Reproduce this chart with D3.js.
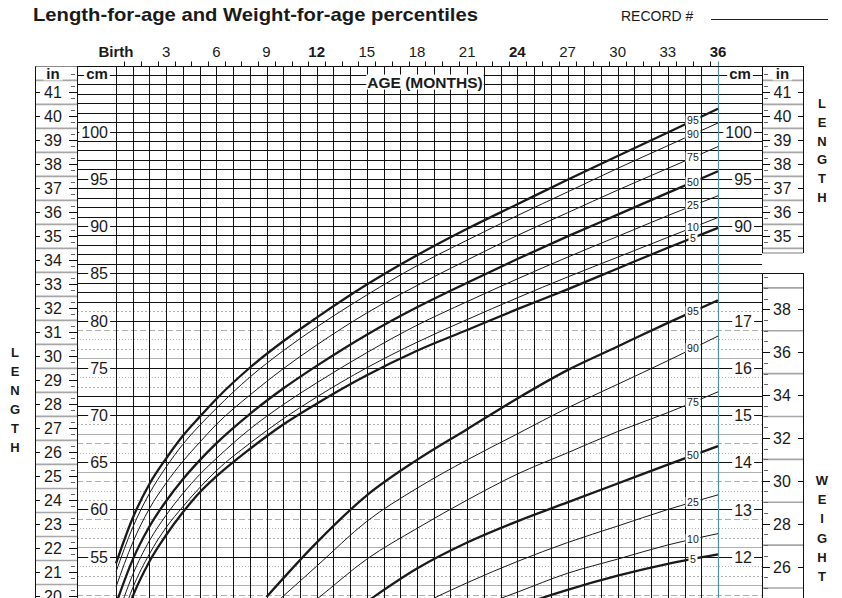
<!DOCTYPE html>
<html><head><meta charset="utf-8">
<script src="https://cdn.jsdelivr.net/npm/d3@7/dist/d3.min.js"></script>
<style>
body{margin:0;background:#fff}
svg{display:block}
text{font-family:"Liberation Sans",Arial,Helvetica,sans-serif;fill:#1a1a1a}
</style></head>
<body><svg id="c" width="842" height="598"></svg>
<script>
// ---------- data ----------
const percentiles = [5, 10, 25, 50, 75, 90, 95];
const lengthAges = [0,1,2,3,4,5,6,8,10,12,15,18,21,24,27,30,33,36];
const lenP5  = [45.6,50.8,54.5,57.3,59.7,61.8,63.5,66.4,69.0,71.2,74.2,76.8,79.0,81.2,83.3,85.5,87.7,89.8];
const lenP10 = [46.6,51.7,55.3,58.1,60.3,62.3,64.1,67.0,69.6,71.9,75.0,77.7,80.1,82.4,84.6,86.7,88.8,90.9];
const lenP25 = [48.2,53.1,56.7,59.4,61.7,63.7,65.4,68.5,71.1,73.4,76.6,79.5,82.0,84.4,86.7,88.9,91.1,93.2];
const lenP50 = [50.0,54.7,58.2,60.9,63.2,65.2,67.0,70.1,72.8,75.2,78.5,81.4,84.0,86.5,88.9,91.2,93.5,95.8];
const lenP75 = [51.8,56.5,60.1,62.8,65.1,67.1,69.0,72.1,74.9,77.4,80.8,83.7,86.4,89.0,91.4,93.8,96.1,98.4];
const lenP90 = [53.4,58.1,61.7,64.5,66.9,68.9,70.7,74.0,76.8,79.3,82.7,85.8,88.5,91.1,93.6,96.1,98.5,100.9];
const lenP95 = [54.3,59.1,62.7,65.4,67.8,69.8,71.7,75.0,77.8,80.3,83.8,86.9,89.7,92.3,94.9,97.4,99.9,102.4];

const weightAges = [9,12,15,18,21,24,27,30,33,36];
const wtP5  = [8.3,9.0,9.6,10.1,10.55,10.95,11.3,11.6,11.85,12.05];
const wtP10 = [8.5,9.3,9.9,10.4,10.85,11.25,11.65,11.95,12.25,12.49];
const wtP25 = [9.0,9.8,10.4,10.95,11.45,11.9,12.3,12.65,13.0,13.31];
const wtP50 = [9.6,10.3,11.05,11.75,12.3,12.75,13.15,13.55,13.95,14.34];
const wtP75 = [10.3,11.1,11.95,12.6,13.2,13.75,14.2,14.65,15.05,15.49];
const wtP90 = [10.85,11.8,12.75,13.45,14.05,14.6,15.15,15.65,16.15,16.67];
const wtP95 = [11.15,12.3,13.3,14.05,14.7,15.35,15.95,16.45,16.95,17.43];

const monthTicks = [0,3,6,9,12,15,18,21,24,27,30,33,36];
const monthLabels = ["Birth","3","6","9","12","15","18","21","24","27","30","33","36"];
const boldMonths = ["Birth","12","24","36"];
const cmLabelsLeft = [55,60,65,70,75,80,85,90,95,100];
const cmLabelsRight = [90,95,100];
const inLabelsLeft = d3.range(20,42);
const inLabelsRight = d3.range(35,42);
const kgLabels = [12,13,14,15,16,17];
const lbLabels = [26,28,30,32,34,36,38];
const thickPct = [5,50,95];

// ---------- geometry ----------
const svg = d3.select("#c");
const TOP = 66.5, BOT = 598;
const L_IN = 35, L_CM = 77, GX0 = 116, GX1 = 718, R_CM = 762, R_IN = 803;
const x = d3.scaleLinear().domain([0,36]).range([GX0,GX1]);
const yCm = d3.scaleLinear().domain([55,100]).range([556.75,131.5]);
const yIn = d3.scaleLinear().domain([20,41]).range([yCm(50.8), yCm(104.14)]);
const yKg = d3.scaleLinear().domain([12,17]).range([yCm(55), yCm(80)]);
const yLb = d3.scaleLinear().domain([26,38]).range([yKg(26*0.45359237), yKg(38*0.45359237)]);
const LEN_BOTTOM_IN_R = 253, LB_TOP = 273;

const g = svg.append("g");

// title
svg.append("text").attr("x",33).attr("y",21).attr("font-size",19).attr("font-weight","bold")
  .attr("textLength",445).attr("lengthAdjust","spacingAndGlyphs")
  .text("Length-for-age and Weight-for-age percentiles");
svg.append("text").attr("x",621).attr("y",21).attr("font-size",14).text("RECORD #");
svg.append("line").attr("x1",711).attr("x2",828).attr("y1",19.5).attr("y2",19.5).attr("stroke","#222").attr("stroke-width",1);

// month labels
svg.selectAll("text.m").data(monthTicks).enter().append("text")
  .attr("x",d=>x(d)).attr("y",57).attr("text-anchor","middle").attr("font-size",15)
  .attr("font-weight",(d,i)=>boldMonths.includes(monthLabels[i])?"bold":"normal")
  .text((d,i)=>monthLabels[i]);

// ---------- horizontal grid ----------
const hgrid = g.append("g");
const grayStyles = ["", "2,2", "1,2", "6,3"];
for (let cm = 50; cm <= 106; cm++) {
  const y = Math.round(yCm(cm)) + 0.5;
  let stroke = "#111", dash = null, w = 1;
  if (cm < 82 && !(cm % 5 === 0 || cm === 71 || cm === 72)) {
    stroke = "#b0b0b0"; dash = grayStyles[(cm) % 4] || null; w = 1.1;
  }
  hgrid.append("line").attr("x1",L_CM).attr("x2",R_CM).attr("y1",y).attr("y2",y)
    .attr("stroke",stroke).attr("stroke-width",w).attr("stroke-dasharray",dash);
}
// vertical grid
const vgrid = g.append("g");
d3.range(0,36).forEach(m=>{
  const xx = Math.round(x(m))+0.5;
  vgrid.append("line").attr("x1",xx).attr("x2",xx).attr("y1",TOP).attr("y2",BOT).attr("stroke","#111").attr("stroke-width",1);
});
d3.range(0.5,36,1).forEach(m=>{
  const xx = Math.round(x(m))+0.5;
  vgrid.append("line").attr("x1",xx).attr("x2",xx).attr("y1",TOP-5).attr("y2",TOP).attr("stroke","#111").attr("stroke-width",1);
});
vgrid.append("line").attr("x1",Math.round(x(36))+0.5).attr("x2",Math.round(x(36))+0.5).attr("y1",TOP-5).attr("y2",BOT)
  .attr("stroke","#4f9196").attr("stroke-width",1.2);

// top border
g.append("line").attr("x1",L_IN).attr("x2",R_IN).attr("y1",TOP).attr("y2",TOP).attr("stroke","#111");

// ---------- inch column left ----------
const inCol = g.append("g");
inCol.append("rect").attr("x",L_IN).attr("y",TOP).attr("width",L_CM-L_IN).attr("height",BOT-TOP).attr("fill","#fff");
d3.range(19.5,42,1).forEach(v=>{
  const y = yIn(v);
  inCol.append("line").attr("x1",L_IN).attr("x2",L_CM).attr("y1",y).attr("y2",y).attr("stroke","#a6a6a6").attr("stroke-width",1.6);
});
d3.range(19.25,42,0.5).forEach(v=>{
  const y = Math.round(yIn(v))+0.5;
  inCol.append("line").attr("x1",L_CM-6).attr("x2",L_CM-2).attr("y1",y).attr("y2",y).attr("stroke","#666");
});
inLabelsLeft.forEach(v=>{
  const y = Math.round(yIn(v))+0.5;
  inCol.append("line").attr("x1",L_IN).attr("x2",L_IN+5).attr("y1",y).attr("y2",y).attr("stroke","#111");
  inCol.append("line").attr("x1",L_CM-8).attr("x2",L_CM).attr("y1",y).attr("y2",y).attr("stroke","#111");
  inCol.append("text").attr("x",53).attr("y",y).attr("dy","0.36em").attr("text-anchor","middle").attr("font-size",16).text(v);
});
inCol.append("line").attr("x1",L_IN+0.5).attr("x2",L_IN+0.5).attr("y1",TOP).attr("y2",BOT).attr("stroke","#111");
inCol.append("line").attr("x1",L_CM+0.5).attr("x2",L_CM+0.5).attr("y1",TOP).attr("y2",BOT).attr("stroke","#111");

// ---------- right inch / lb columns ----------
const rCol = g.append("g");
rCol.append("rect").attr("x",R_CM).attr("y",TOP).attr("width",R_IN-R_CM).attr("height",BOT-TOP).attr("fill","#fff");
d3.range(34.5,42,1).forEach(v=>{
  const y = yIn(v); if (y > LEN_BOTTOM_IN_R) return;
  rCol.append("line").attr("x1",R_CM).attr("x2",R_IN).attr("y1",y).attr("y2",y).attr("stroke","#a6a6a6").attr("stroke-width",1.6);
});
d3.range(34.25,42,0.5).forEach(v=>{
  const y = Math.round(yIn(v))+0.5; if (y > LEN_BOTTOM_IN_R) return;
  rCol.append("line").attr("x1",R_CM+2).attr("x2",R_CM+6).attr("y1",y).attr("y2",y).attr("stroke","#666");
});
inLabelsRight.forEach(v=>{
  const y = Math.round(yIn(v))+0.5;
  rCol.append("line").attr("x1",R_CM).attr("x2",R_CM+8).attr("y1",y).attr("y2",y).attr("stroke","#111");
  rCol.append("line").attr("x1",R_IN-5).attr("x2",R_IN).attr("y1",y).attr("y2",y).attr("stroke","#111");
  rCol.append("text").attr("x",782.5).attr("y",y).attr("dy","0.36em").attr("text-anchor","middle").attr("font-size",16).text(v);
});
rCol.append("line").attr("x1",R_CM).attr("x2",R_IN).attr("y1",LEN_BOTTOM_IN_R).attr("y2",LEN_BOTTOM_IN_R).attr("stroke","#a6a6a6").attr("stroke-width",1.6);
rCol.append("line").attr("x1",R_CM).attr("x2",R_IN).attr("y1",LB_TOP+0.5).attr("y2",LB_TOP+0.5).attr("stroke","#111");
// lb
d3.range(25,40,2).forEach(v=>{
  const y = yLb(v); if (y < LB_TOP+2) return;
  rCol.append("line").attr("x1",R_CM).attr("x2",R_IN).attr("y1",y).attr("y2",y).attr("stroke","#a6a6a6").attr("stroke-width",1.6);
});
d3.range(24.5,40,0.5).forEach(v=>{
  if (v % 2 === 0) return;
  const y = Math.round(yLb(v))+0.5; if (y < LB_TOP+2) return;
  rCol.append("line").attr("x1",R_CM+2).attr("x2",R_CM+6).attr("y1",y).attr("y2",y).attr("stroke","#666");
});
lbLabels.forEach(v=>{
  const y = Math.round(yLb(v))+0.5;
  rCol.append("line").attr("x1",R_CM).attr("x2",R_CM+8).attr("y1",y).attr("y2",y).attr("stroke","#111");
  rCol.append("line").attr("x1",R_IN-5).attr("x2",R_IN).attr("y1",y).attr("y2",y).attr("stroke","#111");
  rCol.append("text").attr("x",782).attr("y",y).attr("dy","0.36em").attr("text-anchor","middle").attr("font-size",16).text(v);
});
[[TOP,LEN_BOTTOM_IN_R],[LB_TOP,BOT]].forEach(([a,b])=>{
  rCol.append("line").attr("x1",R_CM+0.5).attr("x2",R_CM+0.5).attr("y1",a).attr("y2",b).attr("stroke","#111");
  rCol.append("line").attr("x1",R_IN+0.5).attr("x2",R_IN+0.5).attr("y1",a).attr("y2",b).attr("stroke","#111");
});
rCol.append("line").attr("x1",R_CM).attr("x2",R_IN+1).attr("y1",TOP).attr("y2",TOP).attr("stroke","#111");

// ---------- curves ----------
const curves = g.append("g");
const line = d3.line().curve(d3.curveMonotoneX);
const lenSeries = [lenP5,lenP10,lenP25,lenP50,lenP75,lenP90,lenP95];
const wtSeries = [wtP5,wtP10,wtP25,wtP50,wtP75,wtP90,wtP95];
lenSeries.forEach((s,i)=>{
  curves.append("path").attr("d", line(lengthAges.map((a,j)=>[x(a), yCm(s[j])])))
    .attr("fill","none").attr("stroke","#1a1a1a").attr("stroke-width", thickPct.includes(percentiles[i])?2.3:1);
});
wtSeries.forEach((s,i)=>{
  curves.append("path").attr("d", line(weightAges.map((a,j)=>[x(a), yKg(s[j])])))
    .attr("fill","none").attr("stroke","#1a1a1a").attr("stroke-width", thickPct.includes(percentiles[i])?2.3:1);
});

// helper: label with white background
function bgText(parent, xx, yy, txt, opts) {
  const t = parent.append("text").attr("x",xx).attr("y",yy).attr("dy","0.36em")
    .attr("text-anchor",opts.anchor||"middle").attr("font-size",opts.size)
    .attr("font-weight",opts.weight||"normal").text(txt);
  const b = t.node().getBBox();
  parent.insert("rect", () => t.node()).attr("x",b.x-(opts.padX||1)).attr("y",b.y+(opts.padY||0))
    .attr("width",b.width+2*(opts.padX||1)).attr("height",b.height-2*(opts.padY||0)).attr("fill","#fff");
  return t;
}
const labels = g.append("g");
const labelAge = 34.5;
function interp(ages, vals, a){ return d3.scaleLinear().domain(ages).range(vals)(a); }
lenSeries.forEach((s,i)=>{
  bgText(labels, x(labelAge), yCm(interp(lengthAges,s,labelAge)), percentiles[i], {size:10.5, padX:1.5, padY:1});
});
wtSeries.forEach((s,i)=>{
  bgText(labels, x(labelAge), yKg(interp(weightAges,s,labelAge)), percentiles[i], {size:10.5, padX:1.5, padY:1});
});

// cm labels
cmLabelsLeft.forEach(v=>bgText(labels, 108, Math.round(yCm(v))+0.5, v, {anchor:"end", size:16, padX:2, padY:2}));
cmLabelsRight.forEach(v=>bgText(labels, 752, Math.round(yCm(v))+0.5, v, {anchor:"end", size:16, padX:2, padY:2}));
kgLabels.forEach(v=>bgText(labels, 752, Math.round(yKg(v))+0.5, v, {anchor:"end", size:16, padX:2, padY:2}));

// headers
bgText(labels, 53, 74, "in", {size:15, weight:"bold", padX:3, padY:2});
bgText(labels, 97, 74, "cm", {size:15, weight:"bold", padX:2, padY:2});
bgText(labels, 740, 74, "cm", {size:15, weight:"bold", padX:2, padY:2});
bgText(labels, 782.5, 74, "in", {size:15, weight:"bold", padX:3, padY:2});
bgText(labels, 425, 82, "AGE (MONTHS)", {size:15.5, weight:"bold", padX:1, padY:1});

// side words
const sideL = "LENGTH".split("");
sideL.forEach((c,i)=>svg.append("text").attr("x",15).attr("y",357+i*19).attr("text-anchor","middle")
  .attr("font-size",13).attr("font-weight","bold").text(c));
sideL.forEach((c,i)=>svg.append("text").attr("x",822).attr("y",108+i*18.8).attr("text-anchor","middle")
  .attr("font-size",13).attr("font-weight","bold").text(c));
"WEIGHT".split("").forEach((c,i)=>svg.append("text").attr("x",822).attr("y",485+i*19.2).attr("text-anchor","middle")
  .attr("font-size",13).attr("font-weight","bold").text(c));
</script>
</body></html>
